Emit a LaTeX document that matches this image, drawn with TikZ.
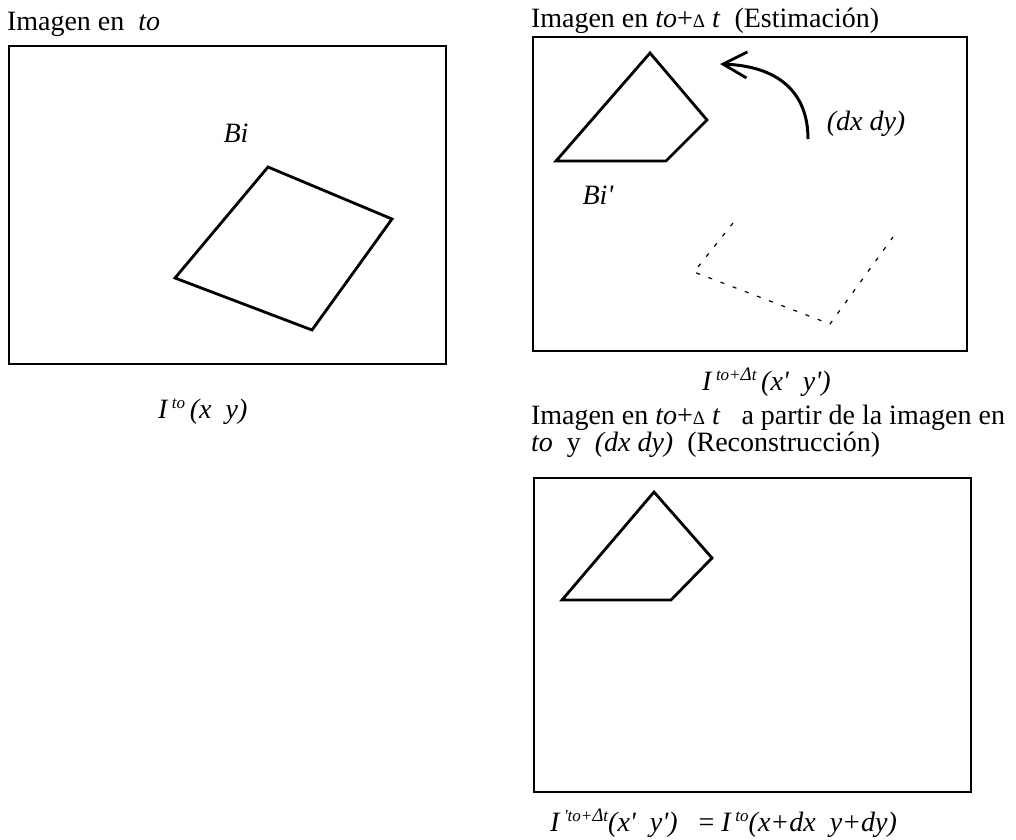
\documentclass[tikz,border=0pt]{standalone}
\usepackage{fontspec}
\setmainfont{Liberation Serif}
\usetikzlibrary{arrows.meta}
\newcommand{\Dl}{{\fontsize{19}{20}\selectfont Δ}}
\newcommand{\pr}{\textquotesingle}
\newcommand{\supx}[1]{\raisebox{10pt}{\fontsize{17}{18}\selectfont\itshape #1}}
\begin{document}
\begin{tikzpicture}[x=1pt,y=-1pt,
  every node/.style={inner sep=0pt,outer sep=0pt,font=\fontsize{28}{30}\selectfont},
  frame/.style={draw,line width=1.8pt},
  block/.style={draw,line width=2.8pt,line join=miter},
  ghost/.style={draw,line width=1.2pt,dash pattern=on 4pt off 9pt},
  motion/.style={draw,line width=3pt,-{Straight Barb[length=24pt,width=26pt,line width=2.8pt]}},
  txt/.style={anchor=base west},
  itxt/.style={anchor=base west,font=\fontsize{28}{30}\selectfont\itshape},
  lbl/.style={anchor=center,font=\fontsize{28}{30}\selectfont\itshape}]
\useasboundingbox (0,0) rectangle (1016,839);
% frames
\draw[frame] (9,46) rectangle (446,364);
\draw[frame] (533,37) rectangle (967,351);
\draw[frame] (534,478) rectangle (971,792);
% titles
\node[txt] (t1) at (7,30) {Imagen en \ \textit{to}};
\node[txt] (t2) at (531,27) {Imagen en \textit{to}+\Dl\ \textit{t} \ (Estimación)};
\node[txt] (t3a) at (531,424) {Imagen en \textit{to}+\Dl\ \textit{t} \ \ a partir de la imagen en};
\node[txt] (t3b) at (531,451) {\textit{to} \ y \ \textit{(dx dy)} \ (Reconstrucción)};
% block in first image
\draw[block] (268,167) -- (392,219) -- (312,330) -- (175,278) -- cycle;
\node[lbl] (bi) at (236,133) {Bi};
% estimated block
\draw[block] (650,53) -- (707,120) -- (666,161) -- (556,161) -- cycle;
\node[lbl] (bip) at (598,195) {Bi\pr};
\draw[ghost] (733,223) -- (694,272) -- (830,324) -- (893,237);
% motion arrow
\coordinate (ms) at (808,139);
\coordinate (me) at (720,64);
\draw[motion] (ms) .. controls (808,92) and (778,66) .. (me);
\node[lbl] (dxdy) at (866,124) {(dx dy)};
% reconstructed block
\draw[block] (654,492) -- (712,558) -- (671,600) -- (562,600) -- cycle;
% image labels
\node[itxt] (l1) at (158,418) {I\,\supx{to}\,(x \ y)};
\node[itxt] (l2) at (702,390) {I\,\supx{to+\Dl t}\,(x\pr\ \ y\pr)};
\node[itxt] (l3) at (550,831) {I\,\supx{\pr to+\Dl t}(x\pr\ \ y\pr) \ \ {\upshape =} I\,\supx{to}(x+dx \ y+dy)};
\end{tikzpicture}
\end{document}
